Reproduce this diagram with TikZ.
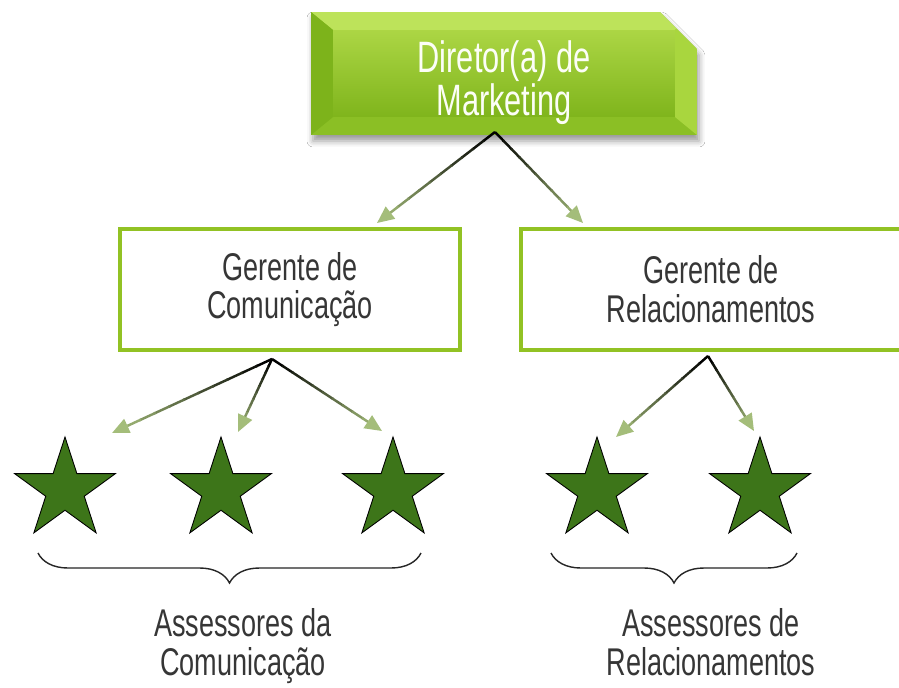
\documentclass[tikz,border=0pt]{standalone}
\usepackage{fontspec}
\setmainfont{Liberation Sans}[FakeStretch=0.7]
\usetikzlibrary{shapes.geometric,shapes.misc,arrows.meta,calc,decorations.pathreplacing,shadows.blur}

\definecolor{boxgreen}{HTML}{92C224}
\definecolor{stargreen}{HTML}{3D7519}
\definecolor{tipgreen}{HTML}{A4BD7A}
\definecolor{txtgray}{HTML}{363636}
\definecolor{bevtop}{HTML}{BDE35A}
\definecolor{bevleft}{HTML}{7DB31B}
\definecolor{bevright}{HTML}{A9D63E}
\definecolor{bevbottom}{HTML}{8BBF25}

\tikzset{
  hand/.style={font=\fontsize{22}{22}\selectfont, text=txtgray, align=center},
  dirbox/.style={chamfered rectangle, chamfered rectangle corners=north east,
    chamfered rectangle xsep=0.38cm, chamfered rectangle ysep=0.36cm,
    text width=5cm, text height=1cm, text depth=0pt,
    minimum width=7.72cm, minimum height=2.46cm, inner sep=0pt, fill=bevbottom,
    blur shadow={shadow xshift=0.04cm, shadow yshift=-0.12cm, shadow blur radius=0.12cm, shadow opacity=40}},
  dirtxt/.style={hand, font=\fontsize{25}{22}\selectfont, text=white!95!bevtop},
  gerbox/.style={hand, draw=boxgreen, line width=0.08cm, minimum height=2.42cm, inner sep=0pt},
  assessor/.style={star, star points=5, star point ratio=2.618, fill=stargreen, draw=black,
    line width=0.5pt, minimum size=2.12cm, inner sep=0pt},
  grupo/.style={decorate, decoration={brace, mirror, amplitude=0.6cm}, draw=black!85, line width=0.8pt}
}

\newcommand\fadearrow[2]{%
  \foreach \k in {0,...,9}{%
    \pgfmathtruncatemacro\mix{100-\k*10}
    \pgfmathsetmacro\ka{\k/11}
    \pgfmathsetmacro\kb{(\k+1)/11+0.01}
    \draw[line width=1.4pt, draw=black!\mix!tipgreen] ($(#1)!\ka!(#2)$) -- ($(#1)!\kb!(#2)$);
  }%
  \draw[line width=1.4pt, tipgreen, -{Triangle[length=0.34cm,width=0.3cm]}] ($(#1)!0.9!(#2)$) -- (#2);
}

\begin{document}
\begin{tikzpicture}[x=0.02cm, y=-0.02cm]
    \clip (0,0) rectangle (899,687);
    \fill[white] (0,0) rectangle (899,687);

    \node[dirbox, path picture={
        \coordinate (nw) at (path picture bounding box.north west);
        \coordinate (se) at (path picture bounding box.south east);
        \path (nw) ++(22,18) coordinate (fnw);
        \path (se) ++(-22,-18) coordinate (fse);
        \fill[bevtop] (nw) -- (se |- nw) -- (fse |- fnw) -- (fnw) -- cycle;
        \fill[bevleft] (nw) -- (nw |- se) -- (fnw |- fse) -- (fnw) -- cycle;
        \fill[bevright] (se |- nw) -- (se) -- (fse) -- (fse |- fnw) -- cycle;
        \fill[top color=bevtop!60!boxgreen, bottom color=bevleft!90!boxgreen] (fnw) rectangle (fse);
      }] (dir) at (504,73.5) {};
    \node[dirtxt] (dirtext) at ($(dir.center)+(0,9)$) {Diretor(a) de\\Marketing};

    \node[gerbox, minimum width=6.8cm] (gcom) at (290,289.5) {Gerente de\\Comunicação};
    \node[gerbox, minimum width=7.6cm] (grel) at (711,289.5) {Gerente de\\Relacionamentos};

    \node[assessor] (s1) at (65,490) {};
    \node[assessor] (s2) at (221,490) {};
    \node[assessor] (s3) at (393,490) {};
    \node[assessor] (s4) at (597,490) {};
    \node[assessor] (s5) at (760,490) {};

    \coordinate (dirfork) at (495,132);
    \coordinate (comfork) at (272,359);
    \coordinate (relfork) at (708,356);
    \coordinate (tcom) at (377,223);
    \coordinate (trel) at (583,223);
    \coordinate (t1) at (112,433);
    \coordinate (t2) at (238,432);
    \coordinate (t3) at (382,431);
    \coordinate (t4) at (616,437);
    \coordinate (t5) at (754,431);

    \fadearrow{dirfork}{tcom}
    \fadearrow{dirfork}{trel}
    \fadearrow{comfork}{t1}
    \fadearrow{comfork}{t2}
    \fadearrow{comfork}{t3}
    \fadearrow{relfork}{t4}
    \fadearrow{relfork}{t5}

    \coordinate (bcom1) at (38,553);
    \coordinate (bcom2) at (421,553);
    \coordinate (brel1) at (551,553);
    \coordinate (brel2) at (797,553);
    \draw[grupo] (bcom1) -- (bcom2);
    \draw[grupo] (brel1) -- (brel2);

    \node[hand] (lcom) at (243,646) {Assessores da\\Comunicação};
    \node[hand] (lrel) at (711,642) {Assessores de\\Relacionamentos};
\end{tikzpicture}
\end{document}
